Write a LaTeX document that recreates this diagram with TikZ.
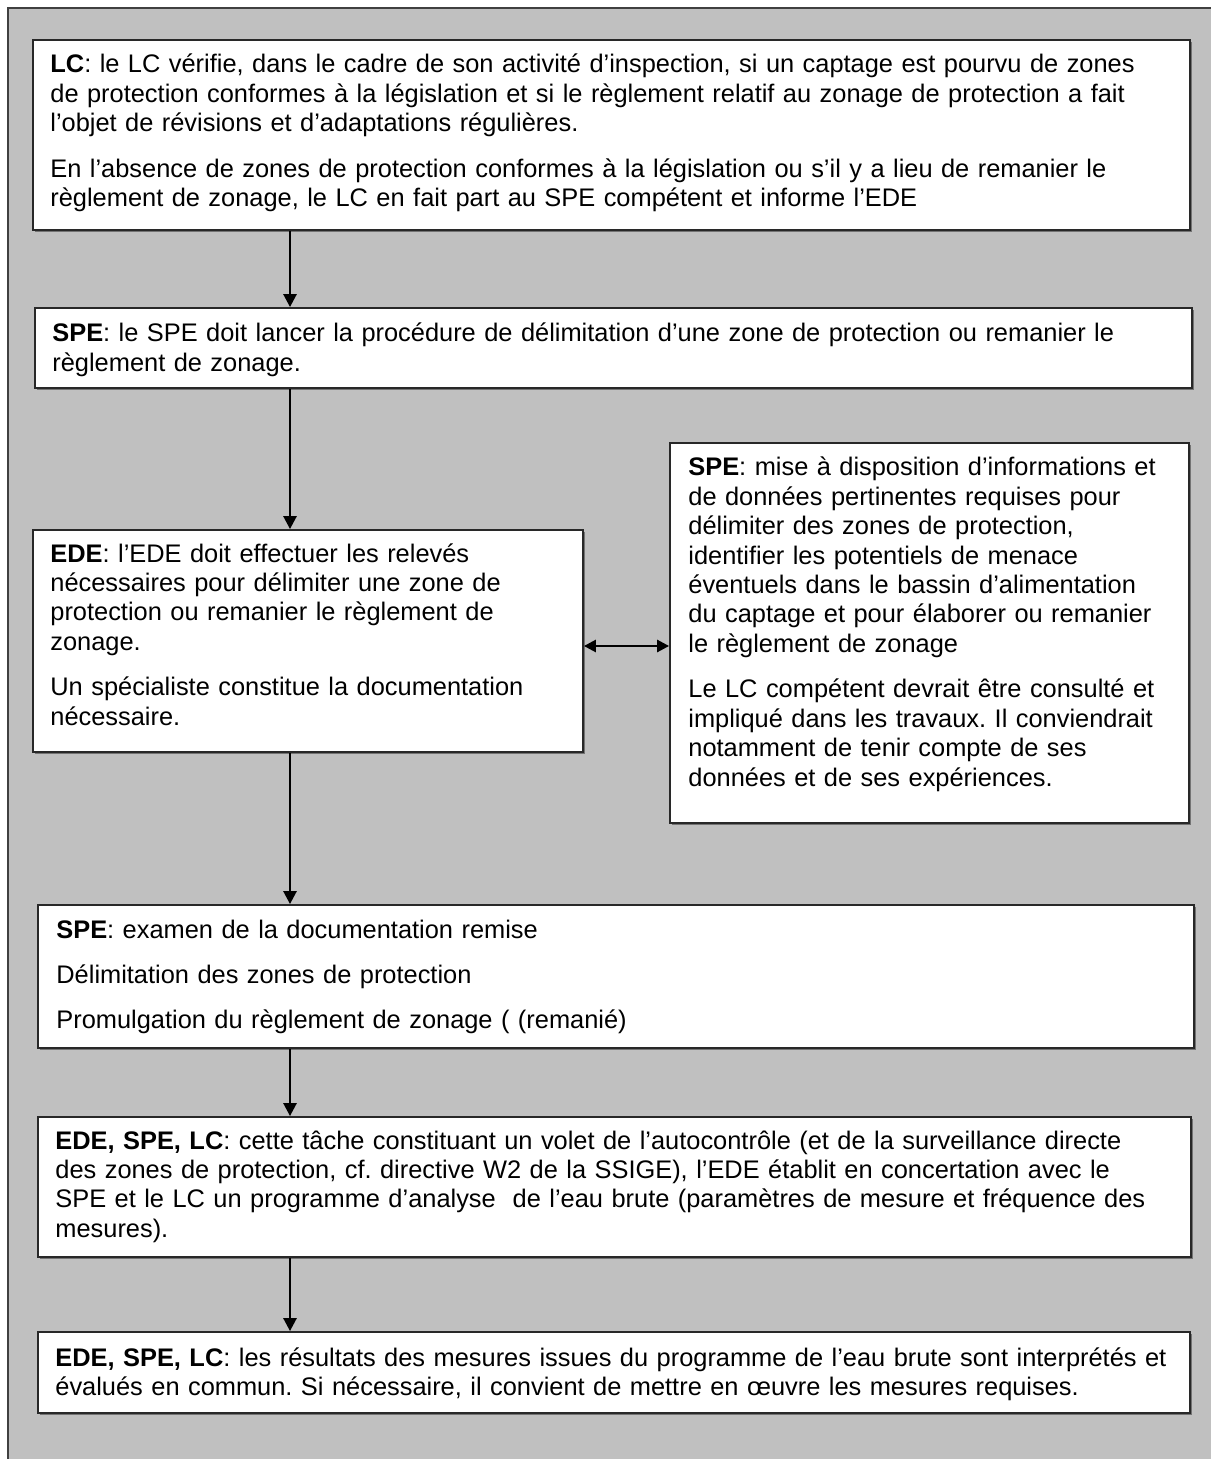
\documentclass[tikz,border=0pt]{standalone}
\usepackage{fontspec}
\setmainfont{Liberation Sans}
\usetikzlibrary{arrows.meta,fit,shadows}
\definecolor{bggray}{RGB}{192,192,192}
\definecolor{edge}{RGB}{40,40,40}
\frenchspacing
\begin{document}
\begin{tikzpicture}[x=0.5pt,y=-0.5pt,
  box/.style={draw=edge, line width=0.9pt, fill=white, inner sep=0pt,
    drop shadow={shadow xshift=0.8pt,shadow yshift=-0.8pt,fill=black!55,opacity=1}},
  txt/.style={anchor=base west, inner sep=0pt, align=left, font=\fontsize{12.7}{14.7}\selectfont\frenchspacing},
  arr/.style={line width=1.3pt, -{Triangle[length=6.5pt,width=6.5pt]}},
  dbl/.style={line width=1.3pt, {Triangle[length=6pt,width=6pt]}-{Triangle[length=6pt,width=6pt]}}]
\useasboundingbox (0,0) rectangle (1210,1459);
\path[fill=bggray, draw=black!75, line width=0.9pt] (8,8) rectangle (1230,1480);

\node[box, fit={(33,40) (1190,230)}] (B1) {};
\node[box, fit={(35,308) (1192,388)}] (B2) {};
\node[box, fit={(33,530) (583,752)}] (B3) {};
\node[box, fit={(670,443) (1189,823)}] (B4) {};
\node[box, fit={(38,905) (1194,1048)}] (B5) {};
\node[box, fit={(38,1117) (1191,1257)}] (B6) {};
\node[box, fit={(38,1332) (1190,1413)}] (B7) {};

\node[txt, text width=580pt] (T1) at (50,73) {\textbf{LC}: le LC vérifie, dans le cadre de son activité d’inspection, si un captage est pourvu de zones\\
de protection conformes à la législation et si le règlement relatif au zonage de protection a fait\\
l’objet de révisions et d’adaptations régulières.\\[8pt]
En l’absence de zones de protection conformes à la législation ou s’il y a lieu de remanier le\\
règlement de zonage, le LC en fait part au SPE compétent et informe l’EDE};

\node[txt, text width=580pt] (T2) at (52,342) {\textbf{SPE}: le SPE doit lancer la procédure de délimitation d’une zone de protection ou remanier le\\
règlement de zonage.};

\node[txt, text width=270pt] (T3) at (50,562) {\textbf{EDE}: l'EDE doit effectuer les relevés\\
nécessaires pour délimiter une zone de\\
protection ou remanier le règlement de\\
zonage.\\[8pt]
Un spécialiste constitue la documentation\\
nécessaire.};

\node[txt, text width=255pt] (T4) at (688,476) {\textbf{SPE}: mise à disposition d’informations et\\
de données pertinentes requises pour\\
délimiter des zones de protection,\\
identifier les potentiels de menace\\
éventuels dans le bassin d’alimentation\\
du captage et pour élaborer ou remanier\\
le règlement de zonage\\[8pt]
Le LC compétent devrait être consulté et\\
impliqué dans les travaux. Il conviendrait\\
notamment de tenir compte de ses\\
données et de ses expériences.};

\node[txt, text width=570pt] (T5) at (56,938) {\textbf{SPE}: examen de la documentation remise\\[8pt]
Délimitation des zones de protection\\[8pt]
Promulgation du règlement de zonage ( (remanié)};

\node[txt, text width=570pt] (T6) at (55,1149) {\textbf{EDE, SPE, LC}: cette tâche constituant un volet de l’autocontrôle (et de la surveillance directe\\
des zones de protection, cf. directive W2 de la SSIGE), l'EDE établit en concertation avec le\\
SPE et le LC un programme d’analyse~ de l’eau brute (paramètres de mesure et fréquence des\\
mesures).};

\node[txt, text width=570pt] (T7) at (55,1366) {\textbf{EDE, SPE, LC}: les résultats des mesures issues du programme de l’eau brute sont interprétés et\\
évalués en commun. Si nécessaire, il convient de mettre en œuvre les mesures requises.};

\coordinate (ax) at (290,0);
\draw[arr] (B1.south -| ax) -- (B2.north -| ax);
\draw[arr] (B2.south -| ax) -- (B3.north -| ax);
\draw[arr] (B3.south -| ax) -- (B5.north -| ax);
\draw[arr] (B5.south -| ax) -- (B6.north -| ax);
\draw[arr] (B6.south -| ax) -- (B7.north -| ax);
\coordinate (dA) at ([yshift=-2.5pt]B3.east);
\draw[dbl] (dA) -- (dA -| B4.west);
\end{tikzpicture}
\end{document}
